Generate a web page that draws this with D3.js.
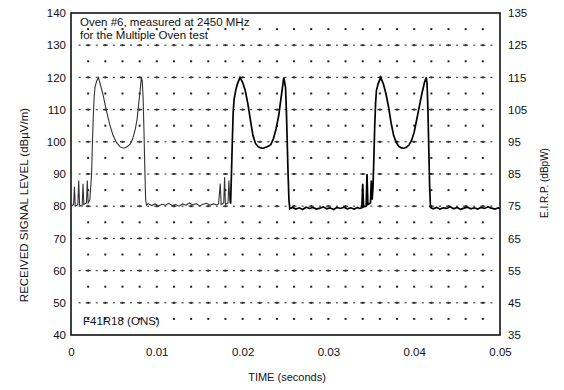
<!DOCTYPE html>
<html><head><meta charset="utf-8">
<script src="https://cdn.jsdelivr.net/npm/d3@7"></script>
<style>
body{margin:0;background:#fff;}
text{font-family:"Liberation Sans",Arial,sans-serif;fill:#111;}
</style></head>
<body><svg id="c" width="564" height="390"></svg>
<script>
// ---- data ----
const xTicks = [0, 0.01, 0.02, 0.03, 0.04, 0.05];
const xTickLabels = ["0", "0.01", "0.02", "0.03", "0.04", "0.05"];
const leftTicks = [40, 50, 60, 70, 80, 90, 100, 110, 120, 130, 140];
const rightTicks = [35, 45, 55, 65, 75, 85, 95, 105, 115, 125, 135];

// first trace segment (lighter)
const timeA = [0.0000,0.0003,0.0004,0.0005,0.0008,0.0009,0.0010,0.0013,0.0014,0.0015,0.0018,0.0019,0.0020,0.0022,0.0024,0.0025,0.0026,0.0027,0.0028,0.0030,0.0032,0.0034,0.0037,0.0041,0.0045,0.0049,0.0053,0.0057,0.0061,0.0065,0.0069,0.0072,0.0075,0.0077,0.0079,0.0081,0.0082,0.0083,0.0084,0.0085,0.0086,0.0087,0.0088,0.0090,0.0094,0.0098,0.0102,0.0106,0.0110,0.0114,0.0118,0.0122,0.0126,0.0130,0.0134,0.0138,0.0142,0.0146,0.0150,0.0154,0.0158,0.0162,0.0166,0.0170,0.0172,0.0174,0.0175,0.0178,0.0179,0.0180,0.0183,0.0184,0.0185,0.0186];
const levelA = [80,80.5,86,80,80.5,88,80.3,80,87,80.5,81,88,81,82,90,100,108,114,117,119,120,118,115,110,105.5,102,99.8,98.5,98,98.4,99.3,101,104,107,112,117,120,119,114,104,92,82,80.3,80.8,80.2,80.7,80.1,80.6,80.3,80.9,80.2,80.5,80.0,80.7,80.3,81.0,80.4,80.8,80.1,80.6,80.9,80.3,80.7,80.4,80.8,87,80.5,81,89,80.6,81,88,82,80.8];

// second trace segment (heavier)
const timeB = [0.0186,0.0187,0.0188,0.0189,0.0190,0.0192,0.0194,0.0197,0.0200,0.0203,0.0206,0.0209,0.0212,0.0215,0.0218,0.0221,0.0224,0.0227,0.0230,0.0233,0.0236,0.0239,0.0242,0.0244,0.0246,0.0248,0.0250,0.0251,0.0252,0.0253,0.0254,0.0255,0.0258,0.0262,0.0266,0.0270,0.0274,0.0278,0.0282,0.0286,0.0290,0.0294,0.0298,0.0302,0.0306,0.0310,0.0314,0.0318,0.0322,0.0326,0.0330,0.0334,0.0336,0.0339,0.0340,0.0341,0.0344,0.0345,0.0346,0.0349,0.0350,0.0351,0.0352,0.0353,0.0354,0.0355,0.0356,0.0358,0.0361,0.0364,0.0367,0.0370,0.0373,0.0376,0.0379,0.0382,0.0385,0.0388,0.0391,0.0394,0.0397,0.0400,0.0403,0.0406,0.0409,0.0412,0.0414,0.0415,0.0416,0.0417,0.0418,0.0419,0.0422,0.0426,0.0430,0.0434,0.0438,0.0442,0.0446,0.0450,0.0454,0.0458,0.0462,0.0466,0.0470,0.0474,0.0478,0.0482,0.0486,0.0490,0.0494,0.0498,0.0500];
const levelB = [80.8,90,100,109,113,116,118,120,118.5,116,112,107,102,99.5,98.5,98.1,98,98.3,98.6,99.2,101,104,108,112,116,120,117,110,100,90,82,79.2,79.6,79.1,79.5,79.0,79.7,79.3,79.6,79.1,79.4,79.8,79.2,79.5,79.0,79.6,79.3,79.7,79.2,79.5,79.1,79.6,79.3,79.5,87,79.8,80,90,80.5,81,88,82,86,95,105,112,116,118,120,118,115,111,106,102,99.8,98.6,98.1,98,98.3,99,100.5,103,107,111,115,118.5,120,118,110,98,86,79.6,79.2,79.6,79.1,79.5,79.3,79.8,79.2,79.6,79.0,79.4,79.7,79.2,79.5,79.1,79.6,79.3,79.8,79.4,79.1,79.5,79.3];

// ---- chart ----
const svg = d3.select("#c");
const L = 71, R = 500, T = 13, B = 335;
const x = d3.scaleLinear().domain([0, 0.05]).range([L, R]);
const y = d3.scaleLinear().domain([40, 140]).range([B, T]);
const y2 = d3.scaleLinear().domain([35, 135]).range([B, T]);

// grid dots
const gx = d3.range(0, 0.05001, 0.002).filter(v => v > 0.0001 && v < 0.0499);
const gy = d3.range(45, 140, 5);
const grid = svg.append("g");
gy.forEach(v => {
  gx.forEach(t => {
    grid.append("rect").attr("x", x(t) - 1).attr("y", y(v) - 1).attr("width", 2).attr("height", 2).attr("fill", "#222");
  });
  if (v % 10 === 0) {
    d3.range(0.001, 0.05, 0.002).forEach(t => {
      grid.append("rect").attr("x", x(t) - 1).attr("y", y(v) - 0.6).attr("width", 2).attr("height", 1.2).attr("fill", "#444");
    });
    gx.forEach(t => {
      grid.append("rect").attr("x", x(t) - 2.5).attr("y", y(v) - 0.6).attr("width", 5).attr("height", 1.2).attr("fill", "#333");
    });
  }
});

// frame
svg.append("rect").attr("x", L).attr("y", T).attr("width", R - L).attr("height", B - T)
  .attr("fill", "none").attr("stroke", "#111").attr("stroke-width", 1.6);

// traces
const line = d3.line().x(d => x(d[0])).y(d => y(d[1]));
svg.append("path").datum(timeA.map((t, i) => [t, levelA[i]]))
  .attr("d", line).attr("fill", "none").attr("stroke", "#333").attr("stroke-width", 1.1);
svg.append("path").datum(timeB.map((t, i) => [t, levelB[i]]))
  .attr("d", line).attr("fill", "none").attr("stroke", "#000").attr("stroke-width", 1.7);

// axes
const ax = svg.append("g").attr("transform", `translate(0,${B})`)
  .call(d3.axisBottom(x).tickValues(xTicks).tickFormat((d, i) => xTickLabels[i]).tickSize(0).tickPadding(13));
const al = svg.append("g").attr("transform", `translate(${L},0)`)
  .call(d3.axisLeft(y).tickValues(leftTicks).tickSize(0).tickPadding(5));
const ar = svg.append("g").attr("transform", `translate(${R},0)`)
  .call(d3.axisRight(y2).tickValues(rightTicks).tickSize(0).tickPadding(8));
[ax, al, ar].forEach(g => {
  g.select(".domain").remove();
  g.selectAll("text").style("font-family", "Liberation Sans, Arial, sans-serif").style("font-size", "11.5px").attr("fill", "#111");
});

// titles
svg.append("text").attr("x", 287).attr("y", 381).attr("text-anchor", "middle")
  .style("font-size", "11px").text("TIME (seconds)");
svg.append("text").attr("transform", "translate(28,205) rotate(-90)").attr("text-anchor", "middle")
  .style("font-size", "11.5px").text("RECEIVED SIGNAL LEVEL (dBµV/m)");
svg.append("text").attr("transform", "translate(548,183) rotate(-90)").attr("text-anchor", "middle")
  .style("font-size", "10px").text("E.I.R.P. (dBpW)");

// annotations
svg.append("text").attr("x", 80).attr("y", 26).style("font-size", "11.5px").text("Oven #6, measured at 2450 MHz");
svg.append("text").attr("x", 80).attr("y", 38.5).style("font-size", "11.5px").text("for the Multiple Oven test");
svg.append("text").attr("x", 83).attr("y", 325).style("font-size", "11.5px").text("F41R18  (ONS)");
</script></body></html>
